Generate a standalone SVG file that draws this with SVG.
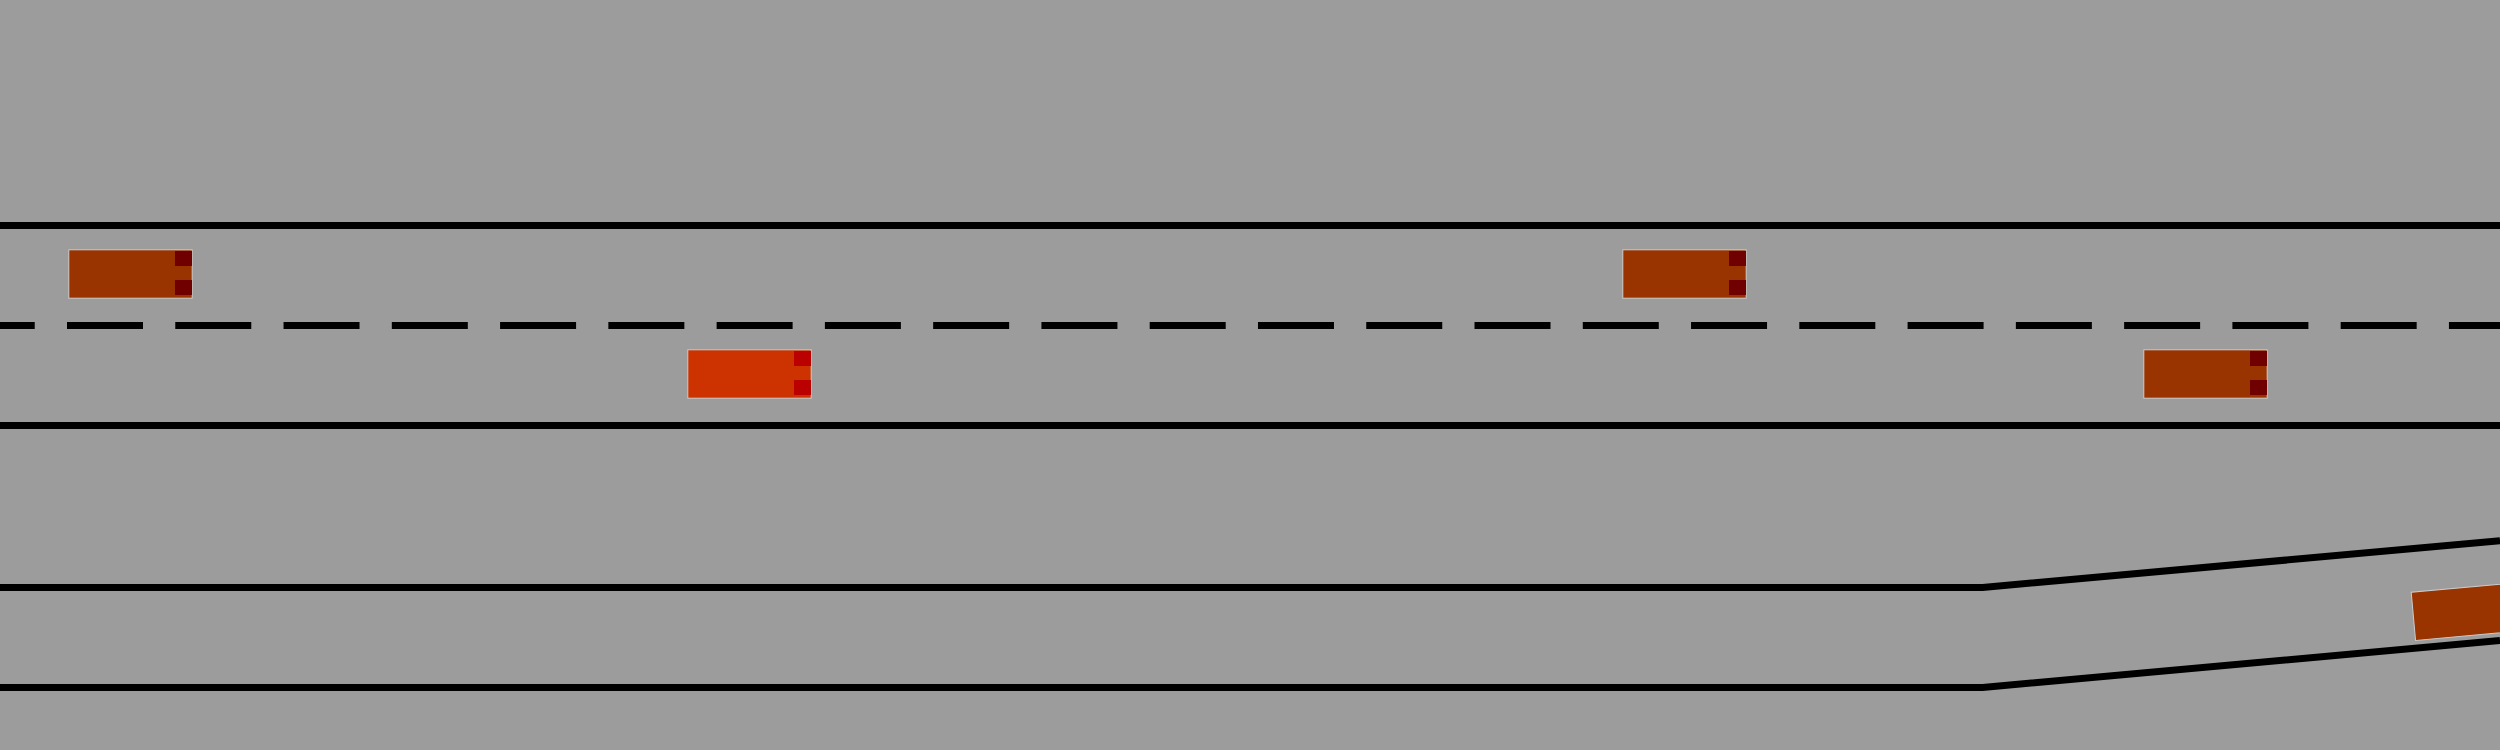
<svg xmlns="http://www.w3.org/2000/svg" width="2500" height="750" viewBox="0 0 2500 750">
<style>
.line{stroke:#000;stroke-width:7;fill:none}
.dash{stroke:#000;stroke-width:7;fill:none;stroke-dasharray:76 32.27;stroke-dashoffset:41.27}
.body{fill:#993300;stroke:#cccccc;stroke-width:1}
.light{fill:#700000}
.body2{fill:#cc3300;stroke:#cccccc;stroke-width:1}
.light2{fill:#bb0000}
</style>
<defs>
<g id="car">
<rect class="body" x="0" y="0" width="123.4" height="48.4"/>
<rect class="light" x="106.2" y="1.2" width="17" height="15"/>
<rect class="light" x="106.2" y="30.2" width="17" height="15"/>
</g>
</defs>
<rect width="2500" height="750" fill="#9c9c9c"/>
<g id="road">
<line class="line" x1="0" y1="225.5" x2="2500" y2="225.5"/>
<line class="dash" x1="0" y1="325.5" x2="2500" y2="325.5"/>
<line class="line" x1="0" y1="425.5" x2="2500" y2="425.5"/>
<polyline class="line" points="0,587.5 1982.6,587.5 2500,540.7"/>
<polyline class="line" points="0,687.5 1982.6,687.5 2500,640.5"/>
</g>
<g id="car1" transform="translate(68.8,249.8)"><use href="#car"/></g>
<g id="car2" transform="translate(687.8,349.8)">
<rect class="body2" x="0" y="0" width="123.4" height="48.4"/>
<rect class="light2" x="106.2" y="1.2" width="17" height="15"/>
<rect class="light2" x="106.2" y="30.2" width="17" height="15"/>
</g>
<g id="car3" transform="translate(1622.8,249.8)"><use href="#car"/></g>
<g id="car4" transform="translate(2143.8,349.8)"><use href="#car"/></g>
<g id="car5" transform="translate(2411.2,592.3) rotate(-5.18)"><use href="#car"/></g>
</svg>
